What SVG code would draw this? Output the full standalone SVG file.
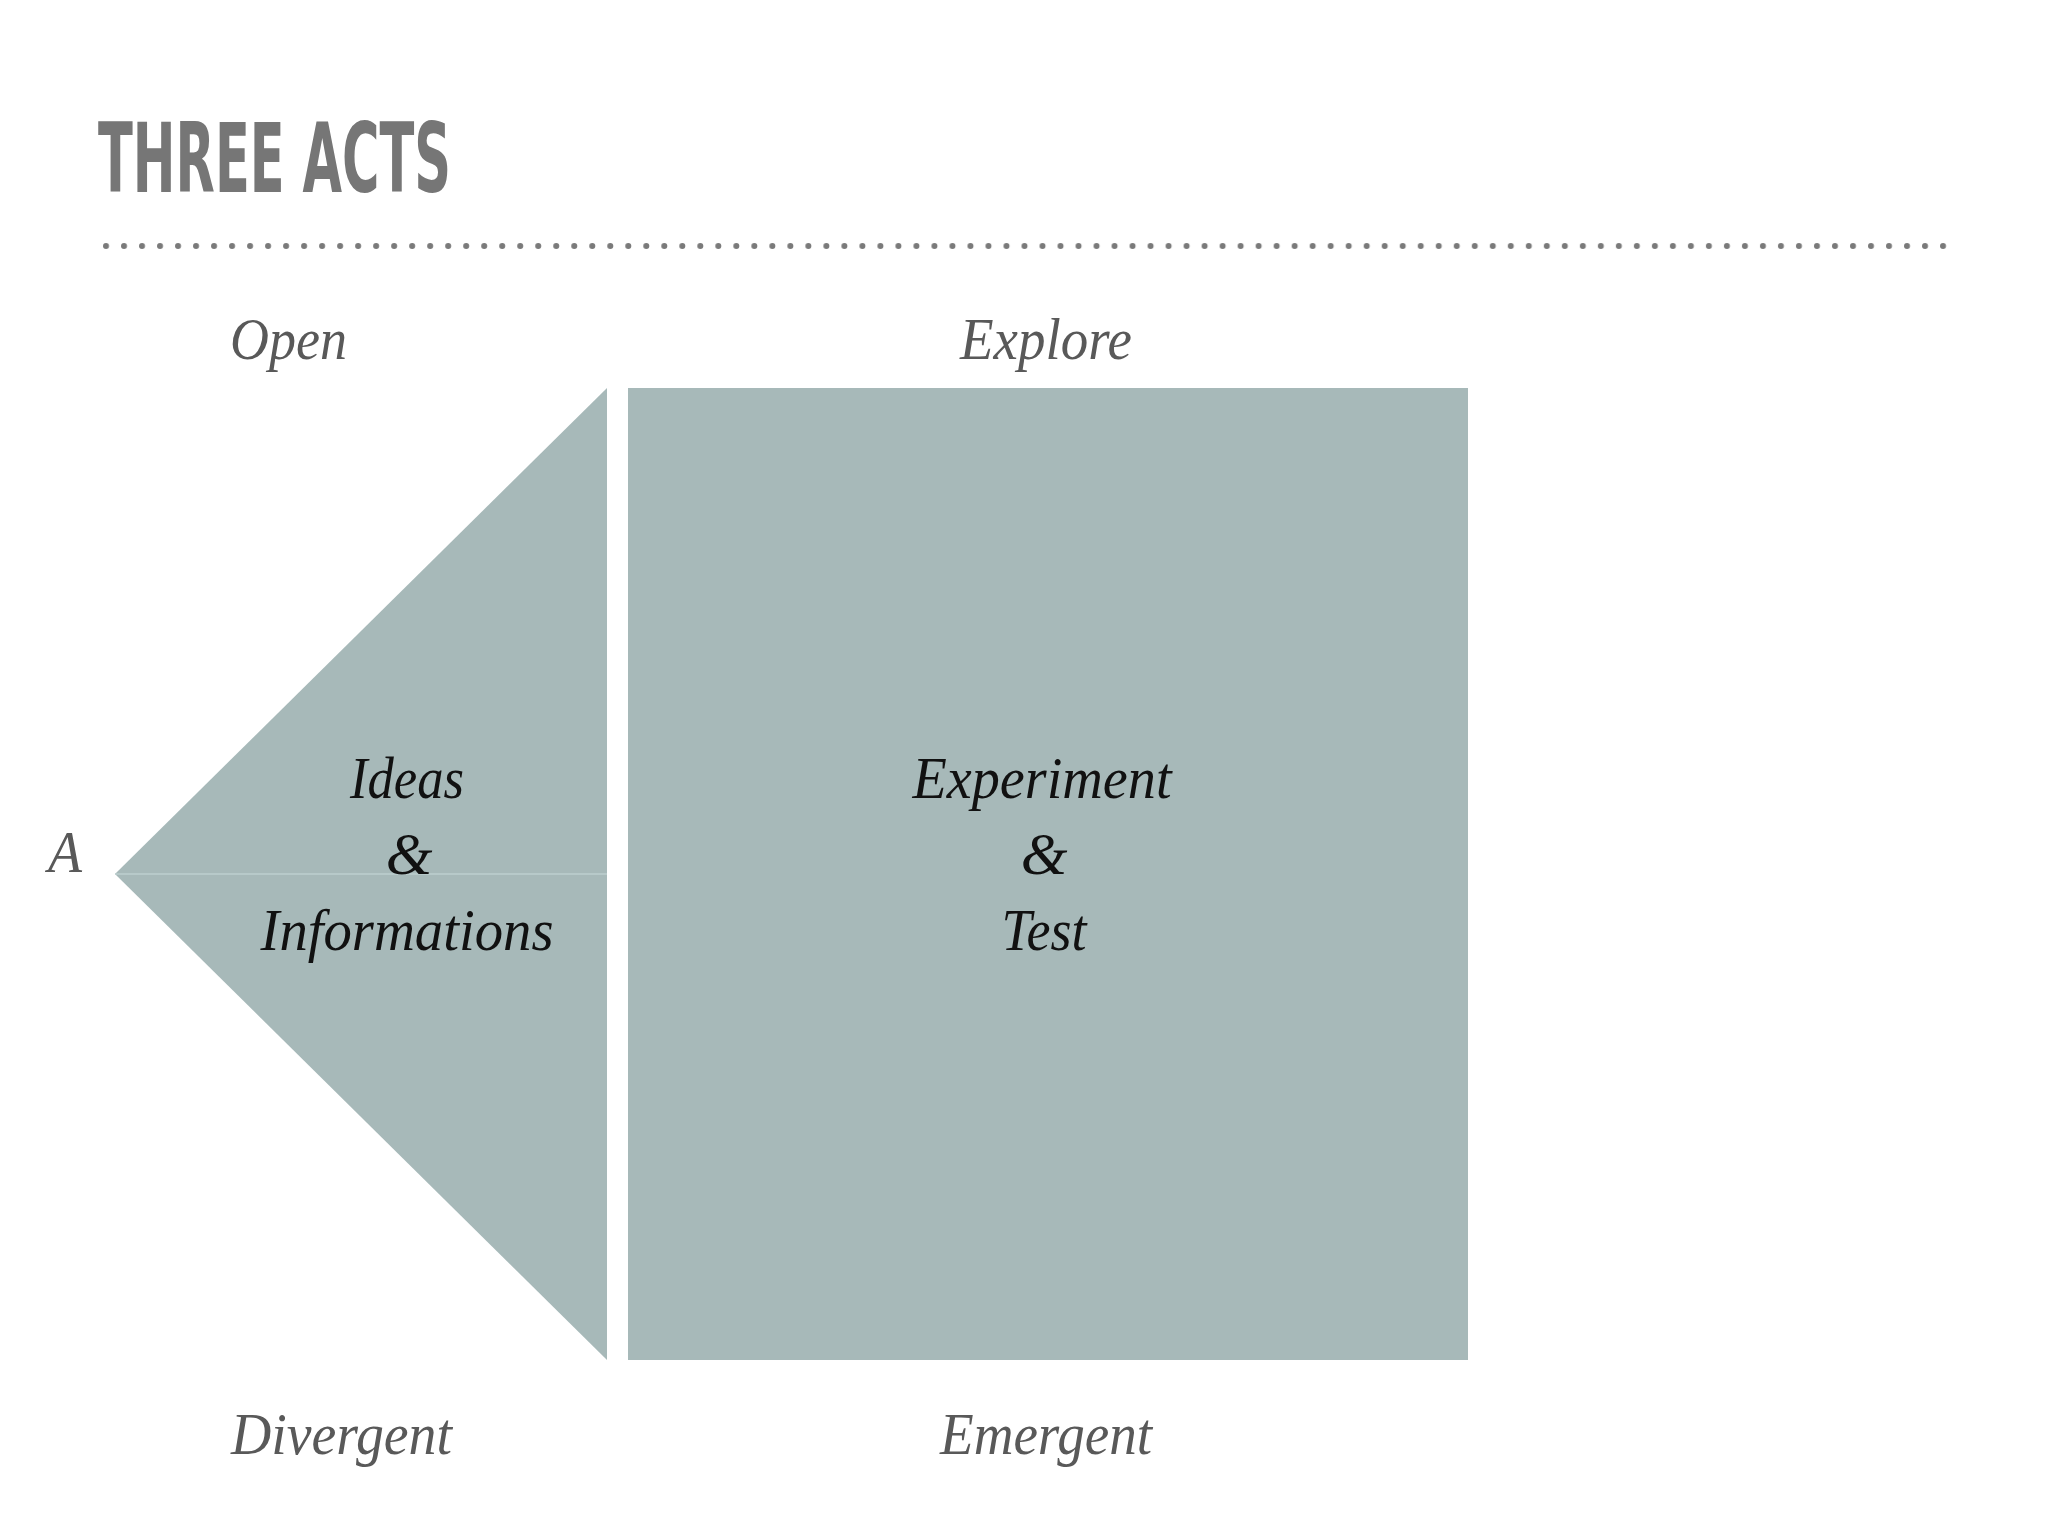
<svg xmlns="http://www.w3.org/2000/svg" width="2048" height="1536" viewBox="0 0 2048 1536">
<style>
.title{font-family:"DejaVu Sans Condensed","DejaVu Sans",sans-serif;font-stretch:condensed;font-weight:bold;font-size:97px;fill:#767676}
.lbl{font-family:"Liberation Serif",serif;font-style:italic;font-size:60px;fill:#595959}
.in{font-family:"Liberation Serif",serif;font-style:italic;font-size:60px;fill:#111111}
.shape{fill:#a7b9b9}
.dot{fill:#7a7a7a}
</style>
<defs>
<pattern id="dots" x="103" y="243" width="18.01" height="6" patternUnits="userSpaceOnUse">
<circle class="dot" cx="3" cy="3" r="3"/>
</pattern>
</defs>
<rect width="2048" height="1536" fill="#ffffff"/>
<g id="header">
<text class="title" x="98" y="192" textLength="353" lengthAdjust="spacingAndGlyphs">THREE ACTS</text>
<rect x="103" y="243" width="1846" height="6" fill="url(#dots)"/>
</g>
<g id="open-triangle">
<polygon class="shape" points="607,388 607,1360 115,874"/>
<line x1="115" y1="874" x2="607" y2="874" stroke="#bccfcf" stroke-width="1.5"/>
<text class="in" x="407" y="798" text-anchor="middle" textLength="114" lengthAdjust="spacingAndGlyphs">Ideas</text>
<text class="in" x="409" y="874" text-anchor="middle">&amp;</text>
<text class="in" x="407" y="950" text-anchor="middle" textLength="293" lengthAdjust="spacingAndGlyphs">Informations</text>
</g>
<g id="explore-rect">
<rect class="shape" x="628" y="388" width="840" height="972"/>
<text class="in" x="1042" y="798" text-anchor="middle" textLength="259" lengthAdjust="spacingAndGlyphs">Experiment</text>
<text class="in" x="1044" y="874" text-anchor="middle">&amp;</text>
<text class="in" x="1044" y="950" text-anchor="middle" textLength="85" lengthAdjust="spacingAndGlyphs">Test</text>
</g>
<g id="labels">
<text class="lbl" x="230" y="359" textLength="117" lengthAdjust="spacingAndGlyphs">Open</text>
<text class="lbl" x="960" y="359" textLength="172" lengthAdjust="spacingAndGlyphs">Explore</text>
<text class="lbl" x="48" y="872" textLength="34" lengthAdjust="spacingAndGlyphs">A</text>
<text class="lbl" x="231" y="1454" textLength="221" lengthAdjust="spacingAndGlyphs">Divergent</text>
<text class="lbl" x="940" y="1454" textLength="212" lengthAdjust="spacingAndGlyphs">Emergent</text>
</g>
<g id="connectors"/>
</svg>
